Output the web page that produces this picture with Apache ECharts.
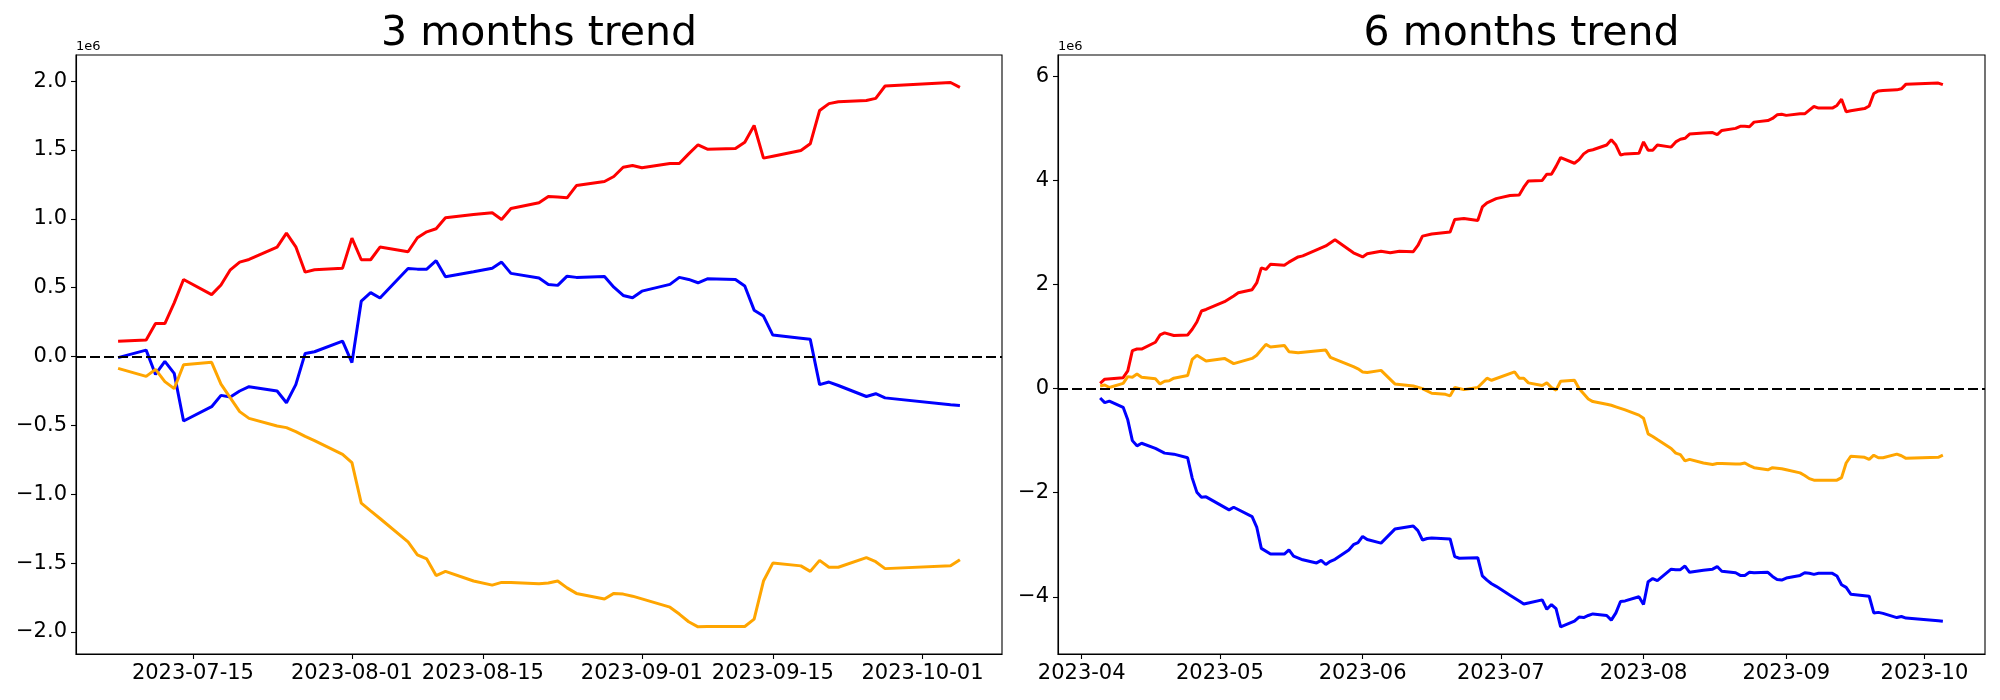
<!DOCTYPE html>
<html><head><meta charset="utf-8">
<script src="https://cdn.jsdelivr.net/npm/echarts@6/dist/echarts.min.js"></script>
<style>html,body{margin:0;padding:0;background:#fff}#c{width:2000px;height:700px}</style>
</head><body><div id="c"></div>
<script>
// ---------- 3 months trend (values in units of 1e6) ----------
const dates3m = ['2023-07-07','2023-07-10','2023-07-11','2023-07-12','2023-07-13','2023-07-14','2023-07-17','2023-07-18','2023-07-19','2023-07-20','2023-07-21','2023-07-24','2023-07-25','2023-07-26','2023-07-27','2023-07-28','2023-07-31',
 '2023-08-01','2023-08-02','2023-08-03','2023-08-04','2023-08-07','2023-08-08','2023-08-09','2023-08-10','2023-08-11','2023-08-14','2023-08-16','2023-08-17','2023-08-18','2023-08-21','2023-08-22','2023-08-23','2023-08-24','2023-08-25','2023-08-28','2023-08-29','2023-08-30','2023-08-31',
 '2023-09-01','2023-09-04','2023-09-05','2023-09-06','2023-09-07','2023-09-08','2023-09-11','2023-09-12','2023-09-13','2023-09-14','2023-09-15','2023-09-18','2023-09-19','2023-09-20','2023-09-21','2023-09-22','2023-09-25','2023-09-26','2023-09-27',
 '2023-10-04','2023-10-05'];
const red3m = [0.112,0.12,0.24,0.24,0.39,0.56,0.45,0.52,0.63,0.686,0.705,0.795,0.896,0.797,0.613,0.63,0.642,
 0.86,0.703,0.703,0.795,0.761,0.863,0.906,0.928,1.008,1.032,1.044,0.996,1.075,1.117,1.163,1.158,1.153,1.242,1.271,1.308,1.375,1.387,
 1.371,1.402,1.402,1.472,1.538,1.506,1.511,1.557,1.678,1.441,1.455,1.496,1.545,1.787,1.837,1.85,1.86,1.875,1.965,
 1.99,1.955];
const blue3m = [-0.008,0.047,-0.13,-0.035,-0.122,-0.468,-0.364,-0.282,-0.294,-0.25,-0.219,-0.25,-0.335,-0.204,0.023,0.035,0.112,
 -0.044,0.403,0.464,0.425,0.64,0.635,0.635,0.696,0.58,0.616,0.642,0.686,0.604,0.57,0.524,0.517,0.584,0.575,0.582,0.504,0.444,0.427,
 0.475,0.524,0.575,0.56,0.536,0.565,0.56,0.512,0.337,0.294,0.156,0.133,0.125,-0.204,-0.185,-0.21,-0.29,-0.27,-0.30,
 -0.35,-0.355];
const orange3m = [-0.086,-0.144,-0.093,-0.182,-0.233,-0.059,-0.042,-0.2,-0.3,-0.4,-0.449,-0.504,-0.516,-0.545,-0.579,-0.61,-0.71,
 -0.77,-1.065,-1.121,-1.176,-1.346,-1.44,-1.47,-1.59,-1.56,-1.63,-1.66,-1.64,-1.64,-1.65,-1.645,-1.63,-1.68,-1.72,-1.76,-1.72,-1.725,-1.74,
 -1.76,-1.82,-1.87,-1.926,-1.963,-1.96,-1.96,-1.96,-1.907,-1.63,-1.50,-1.52,-1.56,-1.48,-1.53,-1.53,-1.46,-1.49,-1.54,
 -1.52,-1.475];

// ---------- 6 months trend (values in units of 1e6) ----------
const red6mEarlyDates = ['2023-04-05','2023-04-06','2023-04-10','2023-04-11','2023-04-12','2023-04-13','2023-04-14','2023-04-17','2023-04-18','2023-04-19','2023-04-21','2023-04-24','2023-04-25','2023-04-26','2023-04-27','2023-04-28',
 '2023-05-02','2023-05-04','2023-05-05','2023-05-08','2023-05-09','2023-05-10','2023-05-11','2023-05-12','2023-05-15','2023-05-16','2023-05-18','2023-05-19','2023-05-24','2023-05-26','2023-05-30',
 '2023-06-01','2023-06-02','2023-06-05','2023-06-07','2023-06-09','2023-06-12','2023-06-13','2023-06-14','2023-06-16','2023-06-20','2023-06-21','2023-06-23','2023-06-26','2023-06-27','2023-06-28','2023-06-30',
 '2023-07-03','2023-07-05','2023-07-06'];
const red6mEarly = [0.10,0.18,0.21,0.34,0.73,0.76,0.76,0.89,1.03,1.07,1.02,1.03,1.14,1.28,1.49,1.52,
 1.67,1.78,1.84,1.90,2.03,2.32,2.29,2.39,2.37,2.43,2.53,2.55,2.74,2.86,2.61,
 2.53,2.59,2.64,2.61,2.64,2.63,2.75,2.93,2.97,3.01,3.25,3.27,3.23,3.49,3.57,3.65,
 3.71,3.72,3.87];
const red6mLate = [3.99,4.00,4.12,4.12,4.27,4.44,4.33,4.40,4.51,4.57,4.59,4.68,4.78,4.68,4.49,4.51,4.52,
 4.74,4.58,4.58,4.68,4.64,4.74,4.79,4.81,4.89,4.91,4.92,4.88,4.96,5.00,5.04,5.04,5.03,5.12,5.15,5.19,5.26,5.27,
 5.25,5.28,5.28,5.35,5.42,5.39,5.39,5.44,5.56,5.32,5.34,5.38,5.43,5.67,5.72,5.73,5.74,5.76,5.85,
 5.87,5.84];

const blue6mEarlyDates = ['2023-04-05','2023-04-06','2023-04-07','2023-04-10','2023-04-11','2023-04-12','2023-04-13','2023-04-14','2023-04-17','2023-04-19','2023-04-21','2023-04-24','2023-04-25','2023-04-26','2023-04-27','2023-04-28',
 '2023-05-03','2023-05-04','2023-05-08','2023-05-09','2023-05-10','2023-05-12','2023-05-15','2023-05-16','2023-05-17','2023-05-19','2023-05-22','2023-05-23','2023-05-24','2023-05-25','2023-05-26','2023-05-29','2023-05-30','2023-05-31',
 '2023-06-01','2023-06-02','2023-06-05','2023-06-08','2023-06-12','2023-06-13','2023-06-14','2023-06-15','2023-06-16','2023-06-20','2023-06-21','2023-06-22','2023-06-26','2023-06-27','2023-06-28','2023-06-29','2023-06-30',
 '2023-07-03','2023-07-05','2023-07-06'];
const blue6mEarly = [-0.18,-0.27,-0.24,-0.36,-0.60,-1.00,-1.10,-1.05,-1.15,-1.24,-1.26,-1.33,-1.72,-1.99,-2.09,-2.08,
 -2.33,-2.28,-2.46,-2.66,-3.07,-3.18,-3.18,-3.10,-3.22,-3.29,-3.35,-3.30,-3.38,-3.32,-3.28,-3.10,-3.00,-2.96,
 -2.84,-2.90,-2.97,-2.70,-2.64,-2.73,-2.91,-2.88,-2.87,-2.89,-3.23,-3.26,-3.25,-3.60,-3.68,-3.75,-3.80,
 -3.97,-4.08,-4.14];
const blue6mLate = [-4.12,-4.06,-4.24,-4.15,-4.23,-4.58,-4.47,-4.39,-4.40,-4.36,-4.33,-4.36,-4.45,-4.31,-4.09,-4.08,-4.00,
 -4.15,-3.71,-3.65,-3.69,-3.47,-3.48,-3.48,-3.41,-3.53,-3.49,-3.47,-3.42,-3.51,-3.54,-3.59,-3.59,-3.53,-3.54,-3.53,-3.61,-3.67,-3.68,
 -3.64,-3.59,-3.54,-3.55,-3.57,-3.55,-3.55,-3.60,-3.77,-3.82,-3.95,-3.98,-3.99,-4.31,-4.30,-4.32,-4.40,-4.38,-4.41,
 -4.46,-4.47];

const orange6mEarlyDates = ['2023-04-05','2023-04-06','2023-04-07','2023-04-10','2023-04-11','2023-04-12','2023-04-13','2023-04-14','2023-04-17','2023-04-18','2023-04-19','2023-04-20','2023-04-21','2023-04-24','2023-04-25','2023-04-26','2023-04-28',
 '2023-05-02','2023-05-04','2023-05-08','2023-05-09','2023-05-11','2023-05-12','2023-05-15','2023-05-16','2023-05-18','2023-05-24','2023-05-25','2023-05-30','2023-05-31',
 '2023-06-01','2023-06-02','2023-06-05','2023-06-08','2023-06-12','2023-06-14','2023-06-16','2023-06-19','2023-06-20','2023-06-21','2023-06-23','2023-06-26','2023-06-28','2023-06-29',
 '2023-07-04','2023-07-05','2023-07-06'];
const orange6mEarly = [0.05,0.07,0.02,0.10,0.23,0.22,0.28,0.22,0.19,0.09,0.14,0.15,0.20,0.25,0.56,0.64,0.53,
 0.58,0.48,0.58,0.64,0.85,0.80,0.83,0.71,0.69,0.74,0.60,0.42,0.38,
 0.32,0.31,0.35,0.09,0.05,0.00,-0.09,-0.11,-0.14,0.02,-0.02,0.02,0.20,0.16,
 0.32,0.20,0.20];
const orange6mLate = [0.11,0.06,0.11,0.02,-0.03,0.14,0.16,0.00,-0.10,-0.20,-0.25,-0.30,-0.32,-0.35,-0.38,-0.41,-0.51,
 -0.57,-0.87,-0.92,-0.98,-1.15,-1.24,-1.27,-1.39,-1.36,-1.43,-1.46,-1.44,-1.44,-1.45,-1.45,-1.43,-1.48,-1.52,-1.56,-1.52,-1.53,-1.54,
 -1.56,-1.62,-1.67,-1.73,-1.76,-1.76,-1.76,-1.76,-1.71,-1.43,-1.30,-1.32,-1.36,-1.28,-1.33,-1.33,-1.26,-1.29,-1.34,
 -1.32,-1.28];

// ---------- ticks ----------
const xTicks3m = ['2023-07-15','2023-08-01','2023-08-15','2023-09-01','2023-09-15','2023-10-01'];
const xTicks6m = ['2023-04-01','2023-05-01','2023-06-01','2023-07-01','2023-08-01','2023-09-01','2023-10-01'];
const yTicks3m = [-2,-1.5,-1,-0.5,0,0.5,1,1.5,2];
const yTicks6m = [-4,-2,0,2,4,6];

const DAY = 86400000;
function ts(s){ return Date.parse(s + 'T00:00:00Z'); }
function pairs(ds, vs){ return ds.map((d,i)=>[ts(d), vs[i]]); }
function pad(n){ return n < 10 ? '0' + n : '' + n; }
function fmtDate(v, withDay){
  const d = new Date(v);
  let s = d.getUTCFullYear() + '-' + pad(d.getUTCMonth() + 1);
  if (withDay) s += '-' + pad(d.getUTCDate());
  return s;
}
function fmtNum(v, dec){ return v.toFixed(dec).replace('-', '\u2212'); }

const FONT = 'DejaVu Sans';
const TICK_FONT = 21;
const grids = [
  {left: 76, top: 55, width: 926, height: 599},
  {left: 1058, top: 55, width: 927, height: 599}
];

function xAxis(idx, ticks, withDay, min, max){
  const vals = ticks.map(ts);
  return {
    type: 'value', gridIndex: idx, min: min, max: max, scale: true,
    axisLine: {show: true, onZero: false, lineStyle: {color: '#000', width: 1.1}},
    axisTick: {show: true, inside: false, length: 5, lineStyle: {color: '#000', width: 1.1}, customValues: vals},
    axisLabel: {show: true, customValues: vals, color: '#000', fontFamily: FONT, fontSize: TICK_FONT, margin: 9,
      formatter: (v) => fmtDate(v, withDay), hideOverlap: false},
    splitLine: {show: false}, minorTick: {show: false}
  };
}
function yAxis(idx, ticks, dec, min, max){
  return {
    type: 'value', gridIndex: idx, min: min, max: max,
    axisLine: {show: true, onZero: false, lineStyle: {color: '#000', width: 1.1}},
    axisTick: {show: true, inside: false, length: 5, lineStyle: {color: '#000', width: 1.1}, customValues: ticks},
    axisLabel: {show: true, customValues: ticks, color: '#000', fontFamily: FONT, fontSize: TICK_FONT, margin: 9,
      formatter: (v) => fmtNum(v, dec)},
    splitLine: {show: false}
  };
}
function line(idx, data, color, zeroLine){
  const s = {
    type: 'line', xAxisIndex: idx, yAxisIndex: idx, data: data,
    showSymbol: false, symbol: 'none', smooth: false, animation: false,
    lineStyle: {color: color, width: 3}, itemStyle: {color: color}
  };
  if (zeroLine) {
    s.markLine = {silent: true, symbol: ['none','none'], animation: false,
      label: {show: false}, lineStyle: {color: '#000', type: [10, 4], width: 2},
      data: [{yAxis: 0}]};
  }
  return s;
}

const red6mDates = red6mEarlyDates.concat(dates3m), red6m = red6mEarly.concat(red6mLate);
const blue6mDates = blue6mEarlyDates.concat(dates3m), blue6m = blue6mEarly.concat(blue6mLate);
const orange6mDates = orange6mEarlyDates.concat(dates3m), orange6m = orange6mEarly.concat(orange6mLate);

const chart = echarts.init(document.getElementById('c'), null, {renderer: 'canvas'});
chart.setOption({
  animation: false,
  backgroundColor: '#fff',
  grid: grids.map(g => Object.assign({show: true, borderColor: '#000', borderWidth: 1.1, backgroundColor: 'transparent'}, g)),
  xAxis: [
    xAxis(0, xTicks3m, true, ts('2023-07-07') - 4.5 * DAY, ts('2023-10-05') + 4.5 * DAY),
    xAxis(1, xTicks6m, false, ts('2023-04-05') - 9.15 * DAY, ts('2023-10-05') + 9.15 * DAY)
  ],
  yAxis: [
    yAxis(0, yTicks3m, 1, -2.16, 2.19),
    yAxis(1, yTicks6m, 0, -5.10, 6.41)
  ],
  series: [
    line(0, pairs(dates3m, red3m), '#ff0000', false),
    line(0, pairs(dates3m, blue3m), '#0000ff', false),
    line(0, pairs(dates3m, orange3m), '#ffa500', true),
    line(1, pairs(red6mDates, red6m), '#ff0000', false),
    line(1, pairs(blue6mDates, blue6m), '#0000ff', false),
    line(1, pairs(orange6mDates, orange6m), '#ffa500', true)
  ],
  graphic: [
    {type: 'text', x: 539, y: 34, style: {text: '3 months trend', fontFamily: FONT, fontSize: 41, fill: '#000', textAlign: 'center', textVerticalAlign: 'middle'}},
    {type: 'text', x: 1521.5, y: 34, style: {text: '6 months trend', fontFamily: FONT, fontSize: 41, fill: '#000', textAlign: 'center', textVerticalAlign: 'middle'}},
    {type: 'text', x: 76, y: 46.5, style: {text: '1e6', fontFamily: FONT, fontSize: 13, fill: '#000', textAlign: 'left', textVerticalAlign: 'middle'}},
    {type: 'text', x: 1058, y: 46.5, style: {text: '1e6', fontFamily: FONT, fontSize: 13, fill: '#000', textAlign: 'left', textVerticalAlign: 'middle'}}
  ]
});
</script>
</body></html>
